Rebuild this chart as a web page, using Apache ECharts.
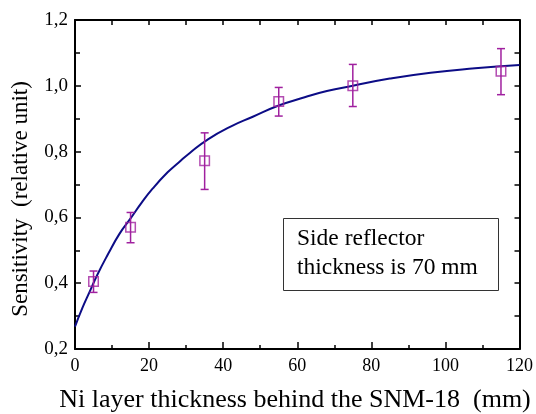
<!DOCTYPE html>
<html>
<head>
<meta charset="utf-8">
<script src="https://cdn.jsdelivr.net/npm/echarts@6/dist/echarts.min.js"></script>
<style>html,body{margin:0;padding:0;background:#fff}#c{width:536px;height:414px}</style>
</head>
<body>
<div id="c"></div>
<script>
// Measured points
const pointX = [5, 15, 35, 55, 75, 115];
const pointY = [0.405, 0.570, 0.772, 0.952, 1.000, 1.044];
const errLow = [0.372, 0.523, 0.685, 0.908, 0.937, 0.973];
const errHigh = [0.437, 0.615, 0.857, 0.995, 1.065, 1.113];
// Fitted curve
const curveX = [0, 2, 4, 6, 9, 12, 15, 18, 21, 25, 28, 31, 36, 42, 48, 55, 62, 68, 75, 85, 96, 108, 120];
const curveY = [0.268, 0.325, 0.375, 0.425, 0.490, 0.550, 0.597, 0.645, 0.688, 0.737, 0.767, 0.796, 0.838, 0.876, 0.906, 0.940, 0.965, 0.984, 1.000, 1.022, 1.040, 1.053, 1.063];
// Tick labels
const xTicks = [0, 20, 40, 60, 80, 100, 120];
const yTickLabels = {'0.2':'0,2','0.4':'0,4','0.6':'0,6','0.8':'0,8','1':'1,0','1.2':'1,2'};
const xTitle = 'Ni layer thickness behind the SNM-18  (mm)';
const yTitle = 'Sensitivity  (relative unit)';
const noteLines = ['Side reflector', 'thickness is 70 mm'];

const FONT = 'Liberation Serif';
const PURPLE = '#a0209f';
const NAVY = '#0c0c86';

const chart = echarts.init(document.getElementById('c'), null, {renderer: 'canvas'});
const axisLine = {show: true, onZero: false, lineStyle: {color: '#000', width: 2}};
chart.setOption({
  animation: false,
  backgroundColor: '#fff',
  grid: {left: 75, right: 14, top: 20, bottom: 65, containLabel: false},
  xAxis: [{
    type: 'value', min: 0, max: 120, interval: 20, position: 'bottom',
    axisLine: axisLine,
    axisTick: {show: true, inside: true, length: 7, lineStyle: {color: '#000', width: 1.5}},
    minorTick: {show: true, splitNumber: 2, length: 4, lineStyle: {color: '#000', width: 1.5}},
    splitLine: {show: false}, minorSplitLine: {show: false},
    axisLabel: {color: '#000', fontFamily: FONT, fontSize: 18, margin: 8,
      formatter: v => xTicks.includes(v) ? String(v) : ''}
  }, {
    type: 'value', min: 0, max: 120, interval: 10, position: 'top',
    axisLine: axisLine,
    axisTick: {show: true, inside: true, length: 5, lineStyle: {color: '#000', width: 1.5}},
    splitLine: {show: false}, axisLabel: {show: false}
  }],
  yAxis: [{
    type: 'value', min: 0.2, max: 1.2, interval: 0.2, position: 'left',
    axisLine: axisLine,
    axisTick: {show: true, inside: true, length: 6, lineStyle: {color: '#000', width: 1.5}},
    minorTick: {show: true, splitNumber: 2, length: 5, lineStyle: {color: '#000', width: 1.5}},
    splitLine: {show: false}, minorSplitLine: {show: false},
    axisLabel: {color: '#000', fontFamily: FONT, fontSize: 19, margin: 7,
      formatter: v => yTickLabels[String(+v.toFixed(1))] || ''}
  }, {
    type: 'value', min: 0.2, max: 1.2, interval: 0.1, position: 'right',
    axisLine: axisLine,
    axisTick: {show: true, inside: true, length: 5, lineStyle: {color: '#000', width: 1.5}},
    splitLine: {show: false}, axisLabel: {show: false}
  }],
  series: [{
    type: 'line', name: 'fit', smooth: true, showSymbol: false, symbol: 'none',
    data: curveX.map((x, i) => [x, curveY[i]]),
    lineStyle: {color: NAVY, width: 2}, z: 2
  }, {
    type: 'custom', name: 'err',
    data: pointX.map((x, i) => [x, errLow[i], errHigh[i]]),
    renderItem: (params, api) => {
      const lo = api.coord([api.value(0), api.value(1)]);
      const hi = api.coord([api.value(0), api.value(2)]);
      const hw = 4;
      const st = {stroke: PURPLE, lineWidth: 1.5, fill: 'none'};
      return {type: 'group', children: [
        {type: 'line', shape: {x1: lo[0], y1: lo[1], x2: hi[0], y2: hi[1]}, style: st},
        {type: 'line', shape: {x1: lo[0]-hw, y1: lo[1], x2: lo[0]+hw, y2: lo[1]}, style: st},
        {type: 'line', shape: {x1: hi[0]-hw, y1: hi[1], x2: hi[0]+hw, y2: hi[1]}, style: st}
      ]};
    }, z: 3
  }, {
    type: 'scatter', name: 'points', symbol: 'rect', symbolSize: 9.5,
    data: pointX.map((x, i) => [x, pointY[i]]),
    itemStyle: {color: 'rgba(0,0,0,0)', borderColor: PURPLE, borderWidth: 1.5}, z: 4
  }],
  graphic: [
    {type: 'text', x: 21, y: 199, rotation: Math.PI / 2,
      style: {text: yTitle, fontFamily: FONT, fontSize: 23, fill: '#000', align: 'center', verticalAlign: 'middle'}},
    {type: 'text', x: 295, y: 400,
      style: {text: xTitle, fontFamily: FONT, fontSize: 26, fill: '#000', align: 'center', verticalAlign: 'middle'}},
    {type: 'rect', shape: {x: 283.5, y: 218.5, width: 215, height: 72},
      style: {fill: '#fff', stroke: '#333', lineWidth: 1}},
    {type: 'text', x: 297, y: 239,
      style: {text: noteLines[0], fontFamily: FONT, fontSize: 23.5, fill: '#000', align: 'left', verticalAlign: 'middle'}},
    {type: 'text', x: 297, y: 268,
      style: {text: noteLines[1], fontFamily: FONT, fontSize: 23.5, fill: '#000', align: 'left', verticalAlign: 'middle'}}
  ]
});
</script>
</body>
</html>
